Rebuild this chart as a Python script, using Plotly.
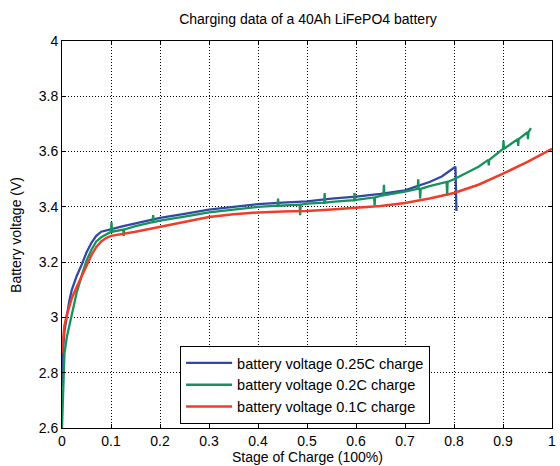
import plotly.graph_objects as go

# Stage of charge and voltage readings
soc_025c = [0, 0.002, 0.005, 0.01, 0.015, 0.02, 0.03, 0.04, 0.05, 0.06, 0.07, 0.08, 0.09, 0.1,
            0.125, 0.15, 0.175, 0.2, 0.25, 0.3, 0.35, 0.4, 0.45, 0.5, 0.55, 0.6, 0.65, 0.7,
            0.725, 0.75, 0.775, 0.8, 0.803, 0.805]
v_025c = [2.75, 2.88, 2.95, 3.01, 3.06, 3.10, 3.15, 3.19, 3.235, 3.27, 3.295, 3.31, 3.315, 3.32,
          3.33, 3.34, 3.35, 3.36, 3.375, 3.39, 3.40, 3.41, 3.415, 3.42, 3.43, 3.437, 3.447, 3.46,
          3.475, 3.49, 3.51, 3.54, 3.545, 3.385]

soc_02c = [0, 0.002, 0.005, 0.01, 0.015, 0.02, 0.03, 0.04, 0.05, 0.06, 0.07, 0.08, 0.09, 0.1,
           0.101, 0.102, 0.125, 0.126, 0.127, 0.15, 0.185, 0.186, 0.187, 0.2, 0.25, 0.3, 0.35,
           0.4, 0.44, 0.441, 0.442, 0.485, 0.486, 0.487, 0.5, 0.535, 0.536, 0.537, 0.55,
           0.596, 0.597, 0.598, 0.6, 0.637, 0.638, 0.639, 0.65, 0.656, 0.657, 0.658, 0.7,
           0.726, 0.727, 0.728, 0.73, 0.731, 0.732, 0.75, 0.785, 0.786, 0.787, 0.8, 0.85,
           0.87, 0.871, 0.872, 0.9, 0.901, 0.902, 0.93, 0.931, 0.932, 0.95, 0.951, 0.952, 0.957]
v_02c = [2.6, 2.75, 2.87, 2.93, 2.97, 3.02, 3.09, 3.15, 3.205, 3.245, 3.275, 3.29, 3.30, 3.31,
         3.345, 3.31, 3.318, 3.295, 3.318, 3.33, 3.345, 3.37, 3.345, 3.35, 3.365, 3.38, 3.39,
         3.40, 3.404, 3.43, 3.404, 3.408, 3.37, 3.408, 3.412, 3.415, 3.45, 3.415, 3.418,
         3.424, 3.45, 3.424, 3.425, 3.434, 3.405, 3.434, 3.44, 3.442, 3.48, 3.442, 3.455,
         3.465, 3.50, 3.465, 3.465, 3.43, 3.465, 3.475, 3.49, 3.44, 3.49, 3.50, 3.545,
         3.57, 3.55, 3.57, 3.61, 3.64, 3.61, 3.645, 3.62, 3.645, 3.67, 3.645, 3.67, 3.685]

soc_01c = [0, 0.003, 0.005, 0.01, 0.015, 0.02, 0.03, 0.04, 0.05, 0.06, 0.07, 0.08, 0.09, 0.1,
           0.15, 0.2, 0.25, 0.3, 0.35, 0.4, 0.45, 0.5, 0.55, 0.6, 0.65, 0.7, 0.75, 0.8, 0.85, 0.9,
           0.95, 1.0]
v_01c = [2.87, 2.93, 2.97, 3.01, 3.04, 3.07, 3.11, 3.15, 3.19, 3.225, 3.255, 3.275, 3.287, 3.295,
         3.31, 3.327, 3.345, 3.363, 3.373, 3.38, 3.383, 3.385, 3.39, 3.396, 3.403, 3.414, 3.43,
         3.45, 3.48, 3.52, 3.563, 3.61]

x_ticks = [0, 0.1, 0.2, 0.3, 0.4, 0.5, 0.6, 0.7, 0.8, 0.9, 1]
y_ticks = [2.6, 2.8, 3.0, 3.2, 3.4, 3.6, 3.8, 4.0]

FONT = "Liberation Sans"
FS = 14

fig = go.Figure()
fig.add_trace(go.Scatter(x=soc_025c, y=v_025c, mode="lines",
                         line=dict(color="#3149a6", width=2.3),
                         name="battery voltage 0.25C charge"))
fig.add_trace(go.Scatter(x=soc_02c, y=v_02c, mode="lines",
                         line=dict(color="#17925a", width=2.3),
                         name="battery voltage 0.2C charge"))
fig.add_trace(go.Scatter(x=soc_01c, y=v_01c, mode="lines",
                         line=dict(color="#f03c28", width=2.5),
                         name="battery voltage 0.1C charge"))

axis_common = dict(showline=True, linecolor="black", linewidth=1, mirror="ticks",
                   ticks="inside", ticklen=4, tickcolor="black",
                   showgrid=True, gridcolor="black", gridwidth=1, griddash="1px,2px",
                   zeroline=False, ticklabeloverflow="allow",
                   tickfont=dict(family=FONT, size=FS, color="black"))

fig.update_xaxes(range=[0, 1], tickvals=x_ticks, ticktext=[f"{t:g}" for t in x_ticks],
                 **axis_common)
fig.update_yaxes(range=[2.6, 4.0], tickvals=y_ticks, ticktext=[f"{t:g}" for t in y_ticks],
                 **axis_common)

fig.update_layout(
    width=560, height=466,
    margin=dict(l=62, r=4, t=41, b=38),
    paper_bgcolor="white", plot_bgcolor="white",
    font=dict(family=FONT, color="black"),
    title=dict(text="Charging data of a 40Ah LiFePO4 battery", x=0.55, xanchor="center",
               y=1 - 19 / 466, yanchor="middle", font=dict(family=FONT, size=FS)),
    legend=dict(x=0.241, y=0.212, xanchor="left", yanchor="top",
                bordercolor="black", borderwidth=1, bgcolor="white", itemwidth=46,
                font=dict(family=FONT, size=14.5), tracegroupgap=0),
    annotations=[
        dict(text="Stage of Charge (100%)", xref="paper", yref="paper", x=0.5, y=-0.075,
             xanchor="center", yanchor="middle", showarrow=False,
             font=dict(family=FONT, size=FS)),
        dict(text="Battery voltage (V)", xref="paper", yref="paper", x=-0.095, y=0.5,
             xanchor="center", yanchor="middle", showarrow=False, textangle=-90,
             font=dict(family=FONT, size=FS)),
    ],
)

fig.write_html("out.html")
